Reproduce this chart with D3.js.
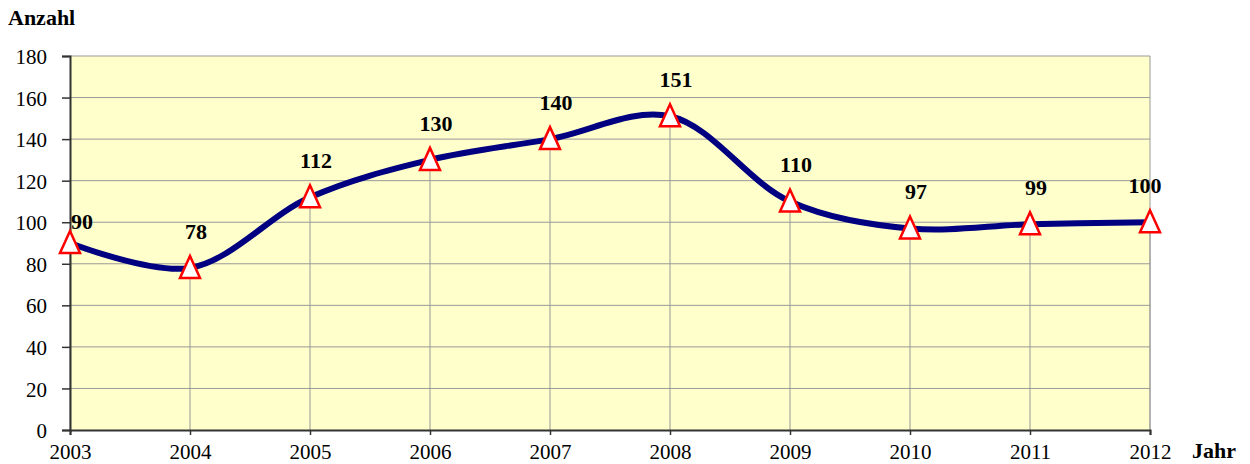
<!DOCTYPE html>
<html>
<head>
<meta charset="utf-8">
<script src="https://cdn.jsdelivr.net/npm/d3@7"></script>
<style>
  body { margin: 0; background: #fff; }
  svg { display: block; font-family: "Liberation Serif", "DejaVu Serif", serif; }
</style>
</head>
<body>
<svg id="chart" width="1250" height="464"></svg>
<script>
// Daten
const years = [2003, 2004, 2005, 2006, 2007, 2008, 2009, 2010, 2011, 2012];
const counts = [90, 78, 112, 130, 140, 151, 110, 97, 99, 100];
const yTicks = [0, 20, 40, 60, 80, 100, 120, 140, 160, 180];

const svg = d3.select("#chart");
const margin = { left: 70, right: 100, top: 56, bottom: 34 };
const width = 1250, height = 464;

const x = d3.scaleLinear()
    .domain([years[0], years[years.length - 1]])
    .range([margin.left, width - margin.right]);

const y = d3.scaleLinear()
    .domain([0, 180])
    .range([height - margin.bottom, margin.top]);

// Hintergrund
svg.append("rect")
    .attr("x", x.range()[0])
    .attr("y", y(180))
    .attr("width", x.range()[1] - x.range()[0])
    .attr("height", y(0) - y(180))
    .attr("fill", "#FFFFCC");

// Gitterlinien
svg.append("g")
    .selectAll("line")
    .data(yTicks.filter(d => d > 0))
    .enter()
    .append("line")
    .attr("x1", x.range()[0])
    .attr("x2", x.range()[1])
    .attr("y1", d => y(d))
    .attr("y2", d => y(d))
    .attr("stroke", "#999")
    .attr("stroke-width", 1);

// rechter Rand
svg.append("line")
    .attr("x1", x.range()[1]).attr("x2", x.range()[1])
    .attr("y1", y(180)).attr("y2", y(0))
    .attr("stroke", "#999");

// Fallinien
svg.append("g")
    .selectAll("line")
    .data(years)
    .enter()
    .append("line")
    .attr("x1", d => x(d))
    .attr("x2", d => x(d))
    .attr("y1", (d, i) => y(counts[i]))
    .attr("y2", y(0))
    .attr("stroke", "#999")
    .attr("stroke-width", 1);

// Achsen
const yAxis = d3.axisLeft(y).tickValues(yTicks).tickSize(8).tickPadding(15);
const gy = svg.append("g")
    .attr("transform", `translate(${margin.left},0)`)
    .call(yAxis);

const xAxis = d3.axisBottom(x).tickValues(years).tickFormat(d3.format("d")).tickSize(5).tickPadding(9);
const gx = svg.append("g")
    .attr("transform", `translate(0,${y(0)})`)
    .call(xAxis);

[gx, gy].forEach(g => {
    g.select(".domain").attr("stroke", "#333").attr("stroke-width", 2);
    g.selectAll(".tick line").attr("stroke", "#333").attr("stroke-width", 1.5);
    g.selectAll("text")
        .attr("font-family", "Liberation Serif, serif")
        .attr("font-size", "21px")
        .attr("fill", "#000");
});
gy.selectAll("text").attr("dy", "0.36em");

// Linie
const line = d3.line()
    .x((d, i) => x(years[i]))
    .y(d => y(d))
    .curve(d3.curveCatmullRom.alpha(0.5));

svg.append("path")
    .datum(counts)
    .attr("d", line)
    .attr("fill", "none")
    .attr("stroke", "#000080")
    .attr("stroke-width", 6)
    .attr("stroke-linejoin", "round");

// Marker (Dreiecke)
svg.append("g")
    .selectAll("path")
    .data(counts)
    .enter()
    .append("path")
    .attr("d", "M0,-12L10,10L-10,10Z")
    .attr("transform", (d, i) => `translate(${x(years[i])},${y(d)})`)
    .attr("fill", "#fff")
    .attr("stroke", "#ff0000")
    .attr("stroke-width", 2.5)
    .attr("stroke-linejoin", "miter");

// Beschriftungen
svg.append("g")
    .selectAll("text")
    .data(counts)
    .enter()
    .append("text")
    .attr("x", (d, i) => x(years[i]) + (i === 0 ? 12 : i === counts.length - 1 ? -5 : 6))
    .attr("y", (d, i) => y(d) - (i === 0 ? 14 : 29))
    .attr("text-anchor", "middle")
    .attr("font-weight", "bold")
    .attr("font-size", "22px")
    .text(d => d);

// Achsentitel
svg.append("text")
    .attr("x", 8)
    .attr("y", 25)
    .attr("font-weight", "bold")
    .attr("font-size", "22px")
    .text("Anzahl");

svg.append("text")
    .attr("x", 1192)
    .attr("y", 458)
    .attr("font-weight", "bold")
    .attr("font-size", "22px")
    .text("Jahr");
</script>
</body>
</html>
